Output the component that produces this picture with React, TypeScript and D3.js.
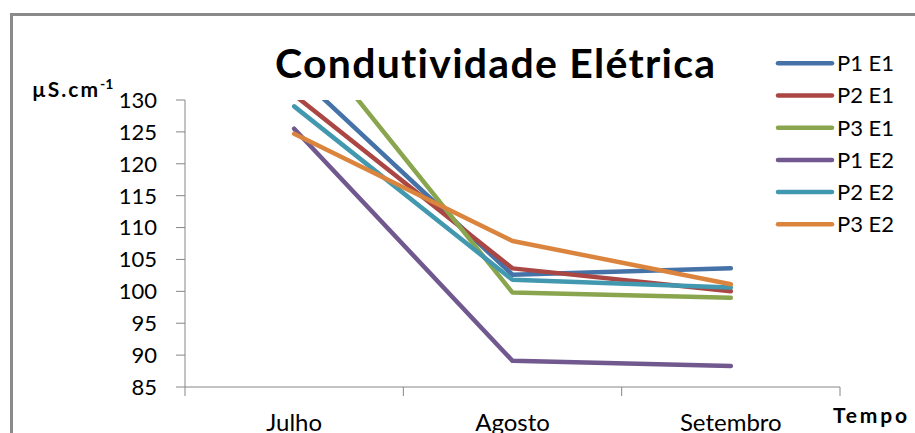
import React from "react";
import * as d3 from "d3";

// Months on the category axis
const months = ["Julho", "Agosto", "Setembro"];

// Series names and their line colours
const seriesNames = ["P1 E1", "P2 E1", "P3 E1", "P1 E2", "P2 E2", "P3 E2"];
const seriesColors = ["#4572A7", "#AA4643", "#89A54E", "#71588F", "#4198AF", "#DB843D"];

// Conductivity readings (µS.cm-1) per series, one per month
const p1e1 = [134.5, 102.6, 103.6];
const p2e1 = [130.8, 103.6, 100.0];
const p3e1 = [142.5, 99.8, 99.0];
const p1e2 = [125.5, 89.1, 88.3];
const p2e2 = [129.0, 101.8, 100.6];
const p3e2 = [124.7, 107.9, 101.1];
const seriesValues = [p1e1, p2e1, p3e1, p1e2, p2e2, p3e2];

// Y axis tick values
const yTicks = [85, 90, 95, 100, 105, 110, 115, 120, 125, 130];

const W = 915;
const H = 433;
const plot = { left: 185, right: 840, top: 100, bottom: 387 };
const font = "Lato, Calibri, 'Open Sans', sans-serif";
const axisColor = "#868686";

export default function App() {
  const x = d3
    .scaleBand<string>()
    .domain(months)
    .range([plot.left, plot.right])
    .padding(0);
  const y = d3.scaleLinear().domain([85, 130]).range([plot.bottom, plot.top]);
  const cx = (m: string) => (x(m) as number) + x.bandwidth() / 2;

  const line = d3
    .line<number>()
    .x((_, i) => cx(months[i]))
    .y((v) => y(v));

  const boundaries = [...months.map((m) => x(m) as number), plot.right];

  const legendX0 = 778;
  const legendX1 = 832;
  const legendY0 = 63.3;
  const legendStep = 32.2;

  return (
    <svg
      width={W}
      height={H}
      style={{
        position: "absolute",
        left: 0,
        top: 0,
        background: "#fff",
        fontVariantLigatures: "none",
      }}
    >
      <defs>
        <clipPath id="plot-clip">
          <rect
            x={plot.left - 20}
            y={plot.top}
            width={plot.right - plot.left + 40}
            height={plot.bottom - plot.top + 20}
          />
        </clipPath>
      </defs>
      <rect x={0} y={0} width={W} height={H} fill="#fff" />

      {/* chart frame */}
      <path
        d={`M${11.5},${H + 5} L${11.5},${14.5} L${W + 5},${14.5}`}
        fill="none"
        stroke="#8a8a8a"
        strokeWidth={3}
      />

      {/* title */}
      <text
        x={275}
        y={78}
        fontFamily={font}
        fontWeight="bold"
        fontSize={41}
        textLength={440}
        lengthAdjust="spacing"
        fill="#000"
      >
        Condutividade Elétrica
      </text>

      {/* y axis */}
      <line x1={plot.left} x2={plot.left} y1={plot.top} y2={plot.bottom} stroke={axisColor} />
      {yTicks.map((t) => (
        <g key={t}>
          <line x1={plot.left - 9} x2={plot.left} y1={y(t)} y2={y(t)} stroke={axisColor} />
          <text
            x={157}
            y={y(t)}
            dy="0.36em"
            textAnchor="end"
            fontFamily={font}
            fontSize={22}
            fill="#000"
          >
            {t}
          </text>
        </g>
      ))}
      <text x={32} y={96.5} fontFamily={font} fontSize={21} fontWeight="bold" fill="#000">
        <tspan textLength={66} lengthAdjust="spacing">µS.cm</tspan>
        <tspan x={100} dy={-8} fontSize={14}>
          -1
        </tspan>
      </text>

      {/* x axis */}
      <line x1={plot.left} x2={plot.right} y1={plot.bottom} y2={plot.bottom} stroke={axisColor} />
      {boundaries.map((b, i) => (
        <line key={i} x1={b} x2={b} y1={plot.bottom} y2={plot.bottom + 9} stroke={axisColor} />
      ))}
      {months.map((m) => (
        <text
          key={m}
          x={cx(m)}
          y={431}
          textAnchor="middle"
          fontFamily={font}
          fontSize={24}
          fill="#000"
        >
          {m}
        </text>
      ))}
      <text
        x={833}
        y={423}
        fontFamily={font}
        fontSize={21}
        fontWeight="bold"
        textLength={74}
        lengthAdjust="spacing"
        fill="#000"
      >
        Tempo
      </text>

      {/* series lines */}
      <g clipPath="url(#plot-clip)">
        {seriesValues.map((vals, i) => (
          <path
            key={seriesNames[i]}
            d={line(vals) || ""}
            fill="none"
            stroke={seriesColors[i]}
            strokeWidth={4.5}
            strokeLinejoin="round"
            strokeLinecap="round"
          />
        ))}
      </g>

      {/* legend */}
      {seriesNames.map((name, i) => {
        const ly = legendY0 + i * legendStep;
        return (
          <g key={name}>
            <line
              x1={legendX0}
              x2={legendX1}
              y1={ly}
              y2={ly}
              stroke={seriesColors[i]}
              strokeWidth={4.5}
              strokeLinecap="round"
            />
            <text
              x={837}
              y={ly}
              dy="0.36em"
              fontFamily={font}
              fontSize={22}
              fill="#000"
            >
              {name}
            </text>
          </g>
        );
      })}
    </svg>
  );
}
